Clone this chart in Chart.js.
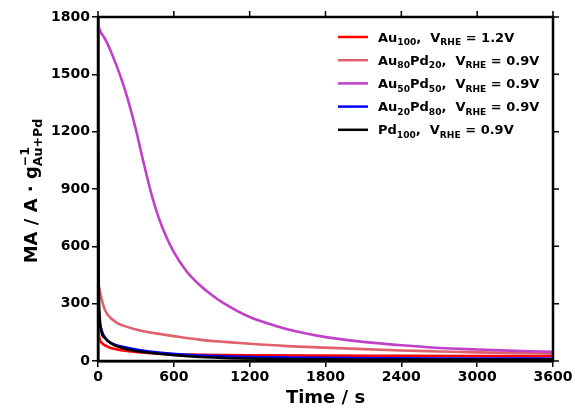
<!DOCTYPE html>
<html>
<head>
<meta charset="utf-8">
<script src="https://cdn.jsdelivr.net/npm/chart.js@4.4.1/dist/chart.umd.min.js"></script>
<style>
  html, body { margin: 0; padding: 0; background: #fff; }
  #wrap { width: 575px; height: 408px; }
</style>
</head>
<body>
<div id="wrap"><canvas id="grafico" width="575" height="408"></canvas></div>
<script>
// Curvas de corrente (atividade mássica) ao longo do tempo
const nomes = [
  "Au_{100},  V_{RHE} = 1.2V",
  "Au_{80}Pd_{20},  V_{RHE} = 0.9V",
  "Au_{50}Pd_{50},  V_{RHE} = 0.9V",
  "Au_{20}Pd_{80},  V_{RHE} = 0.9V",
  "Pd_{100},  V_{RHE} = 0.9V"
];
const cores = ["#ff0000", "#e0606c", "#c040c8", "#0000ff", "#000000"];

const tAu100 = [0, 5, 15, 30, 60, 100, 200, 300, 500, 800, 1200, 1800, 2400, 3000, 3600];
const maAu100 = [210, 150, 110, 95, 80, 68, 55, 47, 38, 33, 30, 28, 27, 26, 25];

const tAu80 = [0, 10, 30, 60, 100, 150, 200, 300, 400, 500, 600, 800, 1000, 1200, 1500, 1800, 2100, 2400, 2700, 3000, 3300, 3600];
const maAu80 = [420, 380, 320, 260, 225, 200, 185, 165, 150, 140, 130, 112, 100, 90, 78, 70, 62, 55, 50, 45, 41, 38];

const tAu50 = [0, 15, 60, 120, 180, 240, 300, 360, 420, 480, 540, 600, 700, 800, 900, 1000, 1200, 1400, 1600, 1800, 2100, 2400, 2700, 3000, 3300, 3600];
const maAu50 = [1760, 1730, 1680, 1590, 1485, 1360, 1210, 1040, 880, 750, 650, 570, 470, 400, 345, 300, 230, 185, 150, 125, 100, 82, 68, 60, 53, 48];

const tAu20 = [0, 10, 25, 40, 70, 110, 170, 240, 350, 500, 700, 1000, 1500, 2000, 3000, 3600];
const maAu20 = [350, 220, 170, 140, 110, 92, 78, 68, 55, 43, 33, 24, 18, 15, 13, 12];

const tPd100 = [0, 5, 12, 25, 55, 110, 240, 500, 770, 1000, 1500, 2000, 3000, 3600];
const maPd100 = [1800, 500, 250, 160, 120, 89, 60, 37, 22, 16, 10, 8, 7, 7];

const tempos = [tAu100, tAu80, tAu50, tAu20, tPd100];
const valores = [maAu100, maAu80, maAu50, maAu20, maPd100];

const xTicks = [0, 600, 1200, 1800, 2400, 3000, 3600];
const yTicks = [0, 300, 600, 900, 1200, 1500, 1800];

const FONTE = "'DejaVu Sans', sans-serif";

// texto com _{sub} e ^{sup}; sub e sup seguidos ficam empilhados
function partes(txt) {
  const out = [];
  const re = /([_^])\{([^}]*)\}|([^_^]+)/g;
  let m;
  while ((m = re.exec(txt))) {
    if (m[3]) out.push({ t: m[3], k: "n" });
    else out.push({ t: m[2], k: m[1] === "_" ? "sub" : "sup" });
  }
  return out;
}

function textoRico(ctx, txt, x, y, tam) {
  const pt = partes(txt);
  let i = 0;
  while (i < pt.length) {
    const p = pt[i];
    if (p.k === "n") {
      ctx.font = "bold " + tam + "px " + FONTE;
      ctx.fillText(p.t, x, y);
      x += ctx.measureText(p.t).width;
      i++;
    } else {
      // agrupa sub/sup consecutivos
      let larg = 0;
      while (i < pt.length && pt[i].k !== "n") {
        const q = pt[i];
        ctx.font = "bold " + (tam * 0.7) + "px " + FONTE;
        const dy = q.k === "sub" ? tam * 0.28 : -tam * 0.45;
        ctx.fillText(q.t, x, y + dy);
        larg = Math.max(larg, ctx.measureText(q.t).width);
        i++;
      }
      x += larg;
    }
  }
  return x;
}

// moldura, ticks de cima/direita, títulos e legenda
const extras = {
  id: "extras",
  afterDatasetsDraw(chart) {
    const ctx = chart.ctx;
    const a = chart.chartArea;
    const sx = chart.scales.x, sy = chart.scales.y;
    ctx.save();
    ctx.strokeStyle = "#000";
    ctx.lineWidth = 1.5;
    ctx.beginPath();
    xTicks.forEach(v => {
      const px = sx.getPixelForValue(v);
      ctx.moveTo(px, a.top); ctx.lineTo(px, a.top - 6);
    });
    yTicks.forEach(v => {
      const py = sy.getPixelForValue(v);
      ctx.moveTo(a.right, py); ctx.lineTo(a.right + 6, py);
    });
    ctx.stroke();
    ctx.lineWidth = 2.5;
    ctx.strokeRect(a.left, a.top, a.right - a.left, a.bottom - a.top);

    ctx.fillStyle = "#000";
    ctx.textBaseline = "alphabetic";
    ctx.textAlign = "left";

    // título do eixo x
    ctx.font = "bold 18px " + FONTE;
    const tx = "Time / s";
    const w = ctx.measureText(tx).width;
    ctx.fillText(tx, (a.left + a.right) / 2 - w / 2, 403);

    // título do eixo y
    const ty = "MA / A \u00b7 g^{\u22121}_{Au+Pd}";
    ctx.save();
    ctx.translate(37, (a.top + a.bottom) / 2 + 2);
    ctx.rotate(-Math.PI / 2);
    const c = document.createElement("canvas").getContext("2d");
    const wy = textoRico(c, ty, 0, 0, 18);
    textoRico(ctx, ty, -wy / 2, 0, 18);
    ctx.restore();

    // legenda
    nomes.forEach((n, i) => {
      const yy = 37 + i * 23.2;
      ctx.strokeStyle = cores[i];
      ctx.lineWidth = 2.5;
      ctx.beginPath();
      ctx.moveTo(338, yy); ctx.lineTo(368, yy);
      ctx.stroke();
      ctx.fillStyle = "#000";
      textoRico(ctx, n, 378, yy + 4.5, 13);
    });
    ctx.restore();
  }
};

const fonteTick = { family: FONTE, size: 14, weight: "bold" };

const ctx = document.getElementById("grafico").getContext("2d");
new Chart(ctx, {
  type: "line",
  data: {
    datasets: nomes.map((n, i) => ({
      label: n,
      data: tempos[i].map((t, j) => ({ x: t, y: valores[i][j] })),
      borderColor: cores[i],
      borderWidth: 2.6,
      pointRadius: 0,
      fill: false,
      cubicInterpolationMode: "monotone",
      order: nomes.length - 1 - i
    }))
  },
  options: {
    responsive: false,
    animation: false,
    layout: { padding: { top: 17, right: 22, left: 0, bottom: 0 } },
    plugins: { legend: { display: false }, tooltip: { enabled: false } },
    scales: {
      x: {
        type: "linear",
        min: 0, max: 3600,
        afterFit: s => { s.height = 47; },
        afterBuildTicks: s => { s.ticks = xTicks.map(v => ({ value: v })); },
        grid: { drawOnChartArea: false, drawTicks: true, tickLength: 6, color: "#000", lineWidth: 1.5 },
        border: { display: true, color: "#000", width: 2.5 },
        ticks: { color: "#000", padding: 2, maxRotation: 0, font: fonteTick, callback: v => String(v) }
      },
      y: {
        type: "linear",
        min: 0, max: 1800,
        afterFit: s => { s.width = 98; },
        afterBuildTicks: s => { s.ticks = yTicks.map(v => ({ value: v })); },
        grid: { drawOnChartArea: false, drawTicks: true, tickLength: 6, color: "#000", lineWidth: 1.5 },
        border: { display: true, color: "#000", width: 2.5 },
        ticks: { color: "#000", padding: 2, font: fonteTick, callback: v => String(v) }
      }
    }
  },
  plugins: [extras]
});
</script>
</body>
</html>
